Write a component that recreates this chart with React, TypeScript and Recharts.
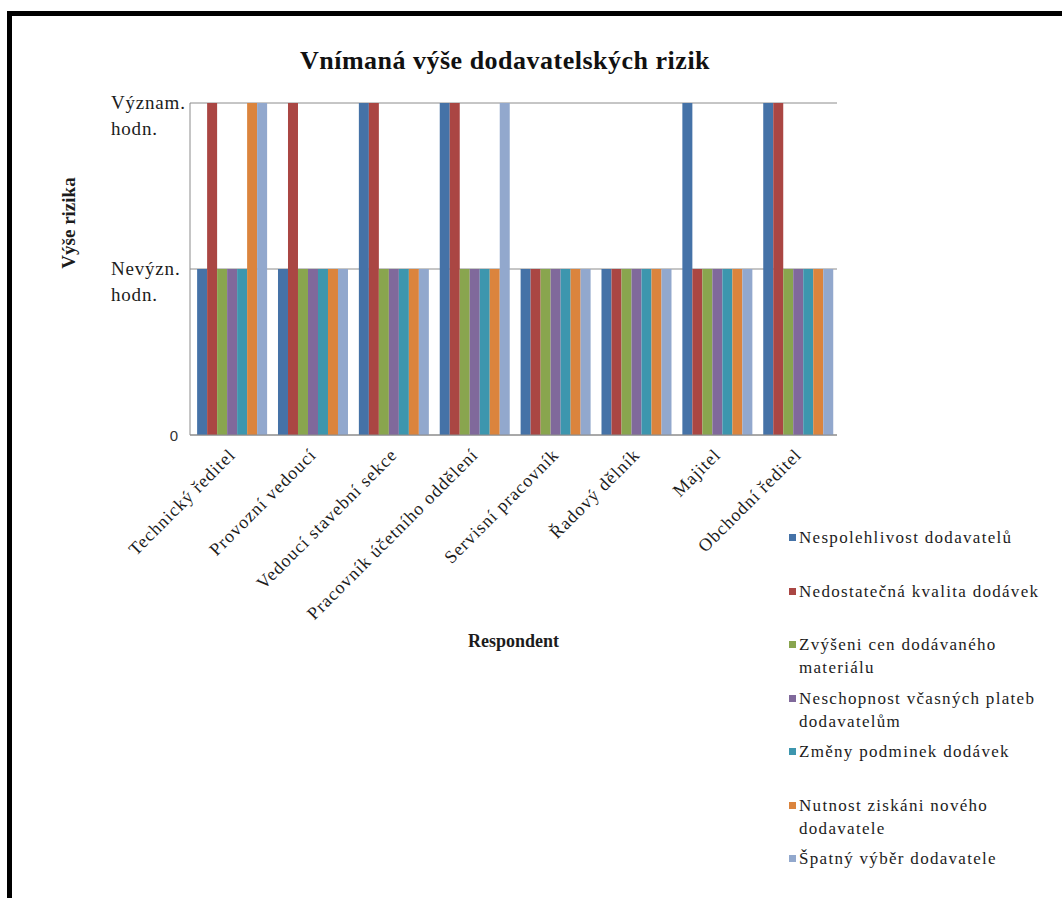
import React from 'react';
import { BarChart, Bar, XAxis, YAxis, CartesianGrid, Legend, Label } from 'recharts';

// Respondents (categories on the X axis)
const respondents = [
  'Technický ředitel',
  'Provozní vedoucí',
  'Vedoucí stavební sekce',
  'Pracovník účetního oddělení',
  'Servisní pracovník',
  'Řadový dělník',
  'Majitel',
  'Obchodní ředitel',
];

// Risk level per respondent: 0 = none, 1 = insignificant, 2 = significant
const nespolehlivost = [1, 1, 2, 2, 1, 1, 2, 2];
const nedostatecnaKvalita = [2, 2, 2, 2, 1, 1, 1, 2];
const zvyseniCen = [1, 1, 1, 1, 1, 1, 1, 1];
const neschopnostPlateb = [1, 1, 1, 1, 1, 1, 1, 1];
const zmenyPodminek = [1, 1, 1, 1, 1, 1, 1, 1];
const nutnostNoveho = [2, 1, 1, 1, 1, 1, 1, 1];
const spatnyVyber = [2, 1, 1, 2, 1, 1, 1, 1];

const seriesNames = [
  'Nespolehlivost dodavatelů',
  'Nedostatečná kvalita dodávek',
  'Zvýšeni cen dodávaného materiálu',
  'Neschopnost včasných plateb dodavatelům',
  'Změny podminek dodávek',
  'Nutnost ziskáni nového dodavatele',
  'Špatný výběr dodavatele',
];
const seriesValues = [
  nespolehlivost,
  nedostatecnaKvalita,
  zvyseniCen,
  neschopnostPlateb,
  zmenyPodminek,
  nutnostNoveho,
  spatnyVyber,
];
const seriesColors = ['#4572A7', '#AA4643', '#89A54E', '#80699B', '#3D96AE', '#DB843D', '#92A8CD'];

// Y axis tick values and their (possibly two-line) labels
const yTicks = [0, 1, 2];
const yTickLabels: Record<number, string[]> = {
  0: ['0'],
  1: ['Nevýzn.', 'hodn.'],
  2: ['Význam.', 'hodn.'],
};

const data = respondents.map((name, i) => {
  const row: Record<string, string | number> = { name };
  seriesNames.forEach((s, k) => {
    row[`s${k}`] = seriesValues[k][i];
  });
  return row;
});

const SERIF = '"Liberation Serif", "Times New Roman", serif';
const SANS = '"Liberation Sans", Arial, sans-serif';
const TEXT = '#1c1c1c';
const AXIS = '#8c8c8c';

const YTick = (props: any) => {
  const { x, y, payload } = props;
  const lines = yTickLabels[payload.value] || [String(payload.value)];
  if (lines.length === 1) {
    return (
      <text x={x - 10} y={y} dy={6} textAnchor="end" fontFamily={SANS} fontSize={15} fill="#333">
        {lines[0]}
      </text>
    );
  }
  return (
    <text x={x - 77} y={y} textAnchor="start" fontFamily={SERIF} fontSize={19} letterSpacing={0.8} fill={TEXT}>
      {lines.map((l, i) => (
        <tspan key={i} x={x - 77} dy={i === 0 ? 6 : 26}>
          {l}
        </tspan>
      ))}
    </text>
  );
};

const XTick = (props: any) => {
  const { x, y, payload } = props;
  return (
    <g transform={`translate(${x + 6},${y + 19})`}>
      <text textAnchor="end" transform="rotate(-45)" fontFamily={SERIF} fontSize={18} letterSpacing={1} fill={TEXT}>
        {payload.value}
      </text>
    </g>
  );
};

// Legend entries listed in series order
const LegendList = (props: any) => {
  const { payload = [] } = props;
  const items = [...payload].sort(
    (a: any, b: any) => seriesNames.indexOf(a.value) - seriesNames.indexOf(b.value)
  );
  return (
    <div style={{ fontFamily: SERIF, fontSize: 17, letterSpacing: 1.3, color: TEXT }}>
      {items.map((e: any, i: number) => (
        <div key={i} style={{ display: 'flex', alignItems: 'flex-start', height: 53.5 }}>
          <span
            style={{ width: 7, height: 7, background: e.color, marginTop: 8, marginRight: 3, flex: 'none' }}
          />
          <span style={{ width: 252, lineHeight: '23px' }}>{e.value}</span>
        </div>
      ))}
    </div>
  );
};

export default function App() {
  return (
    <div
      style={{
        position: 'absolute',
        left: 0,
        top: 0,
        width: 1062,
        height: 898,
        overflow: 'hidden',
        background: '#fff',
      }}
    >
      <div
        style={{
          position: 'absolute',
          left: 7,
          top: 11,
          width: 1055,
          height: 887,
          boxSizing: 'border-box',
          borderTop: '5px solid #000',
          borderLeft: '5px solid #000',
        }}
      />
      <div
        style={{
          position: 'absolute',
          left: 0,
          top: 45,
          width: 1010,
          textAlign: 'center',
          fontFamily: SERIF,
          fontWeight: 'bold',
          fontSize: 26,
          lineHeight: '32px',
          letterSpacing: 0.5,
          color: '#111',
        }}
      >
        Vnímaná výše dodavatelských rizik
      </div>
      <div style={{ position: 'absolute', left: 0, top: 0 }}>
        <BarChart
          width={1062}
          height={898}
          data={data}
          margin={{ top: 103, right: 225, bottom: 263, left: 90 }}
          barCategoryGap="8.8%"
          barGap={0}
        >
          <CartesianGrid horizontal vertical={false} stroke={AXIS} strokeWidth={1} />
          <XAxis
            dataKey="name"
            interval={0}
            height={200}
            tickLine={false}
            tickSize={0}
            tickMargin={2}
            axisLine={{ stroke: AXIS }}
            tick={<XTick />}
          >
            <Label
              content={(p: any) => {
                const vb = p.viewBox || {};
                return (
                  <text
                    x={vb.x + vb.width / 2}
                    y={647}
                    textAnchor="middle"
                    fontFamily={SERIF}
                    fontWeight="bold"
                    fontSize={18}
                    fill={TEXT}
                  >
                    Respondent
                  </text>
                );
              }}
            />
          </XAxis>
          <YAxis
            domain={[0, 2]}
            ticks={yTicks}
            width={100}
            tickLine={false}
            tickSize={0}
            tickMargin={2}
            axisLine={{ stroke: AXIS }}
            tick={<YTick />}
          >
            <Label
              content={() => (
                <text
                  x={75}
                  y={223}
                  transform="rotate(-90, 75, 223)"
                  textAnchor="middle"
                  fontFamily={SERIF}
                  fontWeight="bold"
                  fontSize={19}
                  fill={TEXT}
                >
                  Výše rizika
                </text>
              )}
            />
          </YAxis>
          <Legend
            layout="vertical"
            align="center"
            verticalAlign="middle"
            wrapperStyle={{ left: 789, top: 526, width: 270 }}
            content={<LegendList />}
          />
          {seriesNames.map((s, k) => (
            <Bar key={s} dataKey={`s${k}`} name={s} fill={seriesColors[k]} isAnimationActive={false} />
          ))}
        </BarChart>
      </div>
    </div>
  );
}
